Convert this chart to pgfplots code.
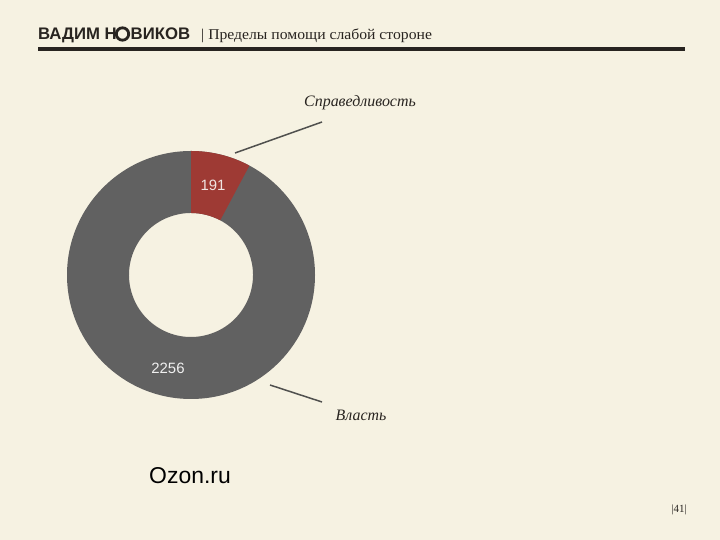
\documentclass[border=0pt]{standalone}
\usepackage{pgfplots}
\usepackage{pgfplotstable}
\pgfplotsset{compat=1.18}
\usepackage{fontspec}
\setmainfont{Liberation Serif}
\newfontfamily\hsans{Liberation Sans}
\definecolor{bg}{RGB}{246,242,226}
\definecolor{pgray}{RGB}{97,97,97}
\definecolor{pred}{RGB}{158,58,52}
\definecolor{dark}{RGB}{40,36,32}
\definecolor{leader}{RGB}{80,80,78}

\pgfplotstableread{
label value
Справедливость 191
Власть 2256
}\piedata

\begin{document}
\begin{tikzpicture}
\pgfplotstablegetelem{0}{value}\of\piedata \let\vA\pgfplotsretval
\pgfplotstablegetelem{1}{value}\of\piedata \let\vB\pgfplotsretval
\pgfmathsetmacro{\fracA}{\vA/(\vA+\vB)}
\pgfmathsetmacro{\angA}{360*\fracA}
\pgfmathsetmacro{\endA}{90-\angA}
\begin{axis}[width=720bp,height=540bp,scale only axis,
  xmin=0,xmax=720,ymin=0,ymax=540,hide axis,clip=false]
 \fill[bg] (axis cs:0,0) rectangle (axis cs:720,540);
 % header
 \node[anchor=base west,inner sep=0pt,text=dark] at (axis cs:38,500)
   {\hsans\bfseries\fontsize{16.8}{17}\selectfont ВАДИМ Н};
 \draw[dark,line width=2.8bp] (axis cs:122.5,506) circle[radius=6.2];
 \node[anchor=base west,inner sep=0pt,text=dark] at (axis cs:130.5,500)
   {\hsans\bfseries\fontsize{16.8}{17}\selectfont ВИКОВ};
 \node[anchor=base west,inner sep=0pt,text=dark] at (axis cs:201,500)
   {\fontsize{15}{16}\selectfont\scalebox{1.05}[1]{| Пределы помощи слабой стороне}};
 \draw[dark,line width=4bp] (axis cs:38,491) -- (axis cs:685,491);
 % donut
 \fill[pgray] (axis cs:191,389) arc[start angle=90,end angle={\endA-360},radius=124]
   -- (axis cs:{191+62*cos(\endA)},{265+62*sin(\endA)})
   arc[start angle={\endA-360},end angle=90,radius=62] -- cycle;
 \fill[pred] (axis cs:191,389) arc[start angle=90,end angle=\endA,radius=124]
   -- (axis cs:{191+62*cos(\endA)},{265+62*sin(\endA)})
   arc[start angle=\endA,end angle=90,radius=62] -- cycle;
 \node[text={rgb,255:red,240;green,228;blue,226}] at (axis cs:213,355)
   {\hsans\fontsize{15}{16}\selectfont \vA};
 \node[text={rgb,255:red,240;green,240;blue,240}] at (axis cs:168,172)
   {\hsans\fontsize{15}{16}\selectfont \vB};
 % leaders and labels
 \draw[leader,line width=1.5bp] (axis cs:235,387) -- (axis cs:322,418);
 \draw[leader,line width=1.5bp] (axis cs:270,155) -- (axis cs:322,138);
 \node[text=dark] at (axis cs:360,437)
   {\itshape\fontsize{16}{17}\selectfont Справедливость};
 \node[text=dark] at (axis cs:361,125)
   {\itshape\fontsize{16}{17}\selectfont Власть};
 % footer
 \node[text=black] at (axis cs:190,64) {\hsans\fontsize{23}{24}\selectfont Ozon.ru};
 \node[text=dark] at (axis cs:679,30) {\fontsize{11}{12}\selectfont |41|};
\end{axis}
\end{tikzpicture}
\end{document}
